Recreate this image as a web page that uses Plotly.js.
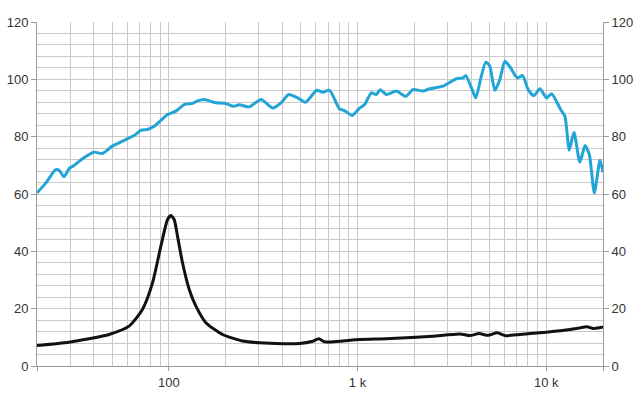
<!DOCTYPE html>
<html>
<head>
<meta charset="utf-8">
<script src="https://cdn.plot.ly/plotly-3.0.1.min.js"></script>
<style>html,body{margin:0;padding:0;background:#fff;}#chart{width:640px;height:400px;}</style>
</head>
<body>
<div id="chart"></div>
<script>
// SPL response (blue)
const splFreq = [20,22.2,25.1,26.2,27.8,29.8,31.4,34.8,40.1,44.4,50.1,59.1,65.4,71.0,76.9,83.5,90.7,98.4,108.9,120.5,133.5,141.9,153.9,167,177.7,200.8,219.5,236,267,308,355,393,432,482,530,608,655,710,802,853,937,1026,1090,1183,1257,1320,1420,1606,1800,1968,2224,2411,2838,3342,3623,3747,4017,4236,4484,4786,5023,5341,5678,6037,6417,7018,7496,8024,8603,9261,10050,10685,11920,12566,13250,14030,15090,16060,16920,17990,19290,20000];
const splVal  = [60.4,63.7,68.5,68.3,66.0,69.1,69.9,72.3,74.6,74.1,76.7,79.0,80.4,82.2,82.5,83.6,85.7,87.7,88.9,91.2,91.6,92.5,93.0,92.3,91.8,91.6,90.6,91.1,90.4,93.0,90.0,91.8,94.7,93.5,92.0,96.2,95.5,96.2,89.7,89.1,87.4,90.0,91.2,95.3,94.7,96.4,94.7,95.9,94.1,96.4,95.9,96.7,97.6,100.2,100.5,101.3,97.0,93.5,99.9,106.0,104.6,96.2,99.9,106.3,104.4,100.5,101.3,96.4,94.3,96.7,93.5,95.0,89.5,87.1,75.3,81.5,71.1,76.9,73.8,60.4,71.8,67.6];

// Impedance (black)
const impFreq = [20,29.5,37.7,48.2,61.5,72.4,81.9,90.7,98.4,102.5,106.7,111.1,118.1,128.2,139.1,157.1,192.6,246,302,402,492,579,623,668,802,1026,1420,2051,2512,3483,3936,4409,4920,5495,6037,7244,10050,13370,15090,16400,17800,19680,20000];
const impVal  = [7.15,8.3,9.5,11.0,13.9,19.7,29.0,41.8,51.1,52.5,51.1,45.3,36.0,26.7,20.9,15.1,11.0,8.7,8.1,7.8,7.85,8.65,9.5,8.45,8.65,9.25,9.5,10.05,10.4,11.2,10.6,11.3,10.7,11.6,10.6,11.0,11.8,12.7,13.3,13.7,13.1,13.5,13.5];

const xTickVals = [20,100,1000,10000,20000];
const xTickText = ["","100","1 k","10 k",""];
const xGridVals = [30,40,50,60,70,80,90,200,300,400,500,600,700,800,900,2000,3000,4000,5000,6000,7000,8000,9000];
const yTickVals = [0,20,40,60,80,100,120];

const gridColor = "#c9c9c9";
const lineColor = "#9a9a9a";

const traces = [
  {x: splFreq, y: splVal, type: "scatter", mode: "lines", line: {color: "#23a4d6", width: 3, shape: "spline", smoothing: 0.6}, hoverinfo: "skip", yaxis: "y"},
  {x: impFreq, y: impVal, type: "scatter", mode: "lines", line: {color: "#111111", width: 3, shape: "spline", smoothing: 0.6}, hoverinfo: "skip", yaxis: "y2"}
];

const layout = {
  width: 640, height: 400,
  margin: {l: 37, r: 37, t: 22, b: 34, pad: 0},
  paper_bgcolor: "#ffffff", plot_bgcolor: "#ffffff",
  showlegend: false,
  font: {family: "Liberation Sans, Arial, sans-serif", size: 13, color: "#333333"},
  xaxis: {
    type: "log", range: [Math.log10(20), Math.log10(20000)],
    tickmode: "array", tickvals: xTickVals, ticktext: xTickText,
    ticks: "outside", ticklen: 4, tickcolor: lineColor,
    showgrid: true, gridcolor: gridColor, gridwidth: 1,
    minor: {tickmode: "array", tickvals: xGridVals, showgrid: true, gridcolor: gridColor, gridwidth: 1, ticks: ""},
    showline: true, linecolor: lineColor, linewidth: 1,
    zeroline: false, fixedrange: true
  },
  yaxis: {
    range: [0, 120], tickmode: "array", tickvals: yTickVals,
    ticks: "outside", ticklen: 5, tickcolor: lineColor,
    showgrid: true, gridcolor: gridColor, gridwidth: 1,
    minor: {dtick: 4, tick0: 0, showgrid: true, gridcolor: gridColor, gridwidth: 1, ticks: ""},
    showline: true, linecolor: lineColor, linewidth: 1,
    zeroline: false, fixedrange: true
  },
  yaxis2: {
    range: [0, 120], overlaying: "y", side: "right", tickmode: "array", tickvals: yTickVals,
    ticks: "outside", ticklen: 5, tickcolor: lineColor,
    showgrid: false, showline: true, linecolor: lineColor, linewidth: 1,
    zeroline: false, fixedrange: true
  }
};

Plotly.newPlot("chart", traces, layout, {displayModeBar: false, staticPlot: true});
</script>
</body>
</html>
